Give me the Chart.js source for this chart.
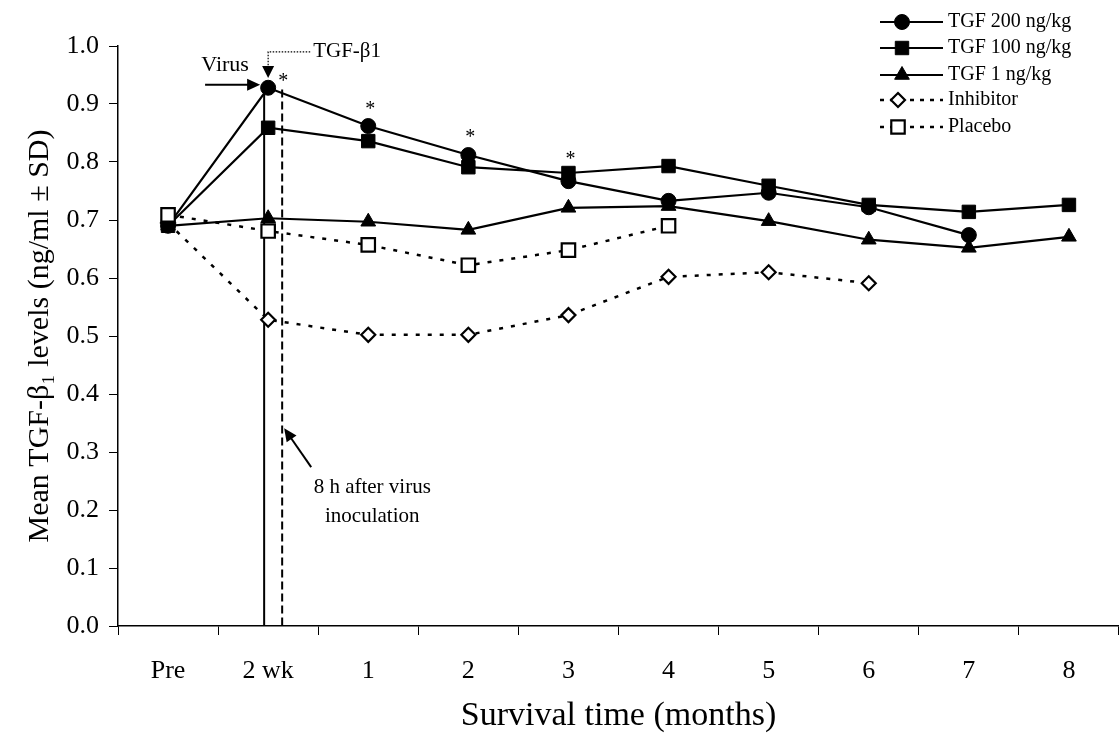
<!DOCTYPE html>
<html>
<head>
<meta charset="utf-8">
<script src="https://cdn.jsdelivr.net/npm/chart.js@4/dist/chart.umd.min.js"></script>
<style>
  html, body { margin: 0; padding: 0; background: #fff; }
  #wrap { width: 1119px; height: 736px; }
</style>
</head>
<body>
<div id="wrap"><canvas id="chart" width="1119" height="736"></canvas></div>
<script>
// data
const categories = ['Pre', '2 wk', '1', '2', '3', '4', '5', '6', '7', '8'];
const tgf200 = [0.69, 0.928, 0.862, 0.812, 0.767, 0.733, 0.747, 0.722, 0.674, null];
const tgf100 = [0.69, 0.859, 0.836, 0.791, 0.781, 0.793, 0.759, 0.726, 0.714, 0.726];
const tgf1 = [0.69, 0.703, 0.697, 0.683, 0.721, 0.724, 0.698, 0.666, 0.652, 0.671];
const inhibitor = [0.695, 0.528, 0.502, 0.502, 0.536, 0.602, 0.61, 0.591, null, null];
const placebo = [0.709, 0.681, 0.657, 0.622, 0.648, 0.69, null, null, null, null];
const seriesNames = ['TGF 200 ng/kg', 'TGF 100 ng/kg', 'TGF 1 ng/kg', 'Inhibitor', 'Placebo'];
const yTicks = [0, 0.1, 0.2, 0.3, 0.4, 0.5, 0.6, 0.7, 0.8, 0.9, 1.0];

// significance marks (category index, value)
const stars = [[1.15, 0.947], [2.02, 0.898], [3.02, 0.85], [4.02, 0.812]];

const SERIF = "'Liberation Serif', 'Times New Roman', serif";

function series(label, data, style, radius, open, dashed) {
    return {
        label: label,
        data: data,
        borderColor: '#000',
        borderWidth: dashed ? 2.5 : 2.2,
        borderDash: dashed ? [4, 8] : [],
        tension: 0,
        spanGaps: false,
        clip: false,
        pointStyle: style,
        pointRadius: radius,
        pointBackgroundColor: open ? '#fff' : '#000',
        pointBorderColor: '#000',
        pointBorderWidth: open ? 2.2 : 1,
    };
}

const datasets = [
    Object.assign(series(seriesNames[4], placebo, 'rect', 9.5, true, true), { order: 0 }),
    Object.assign(series(seriesNames[0], tgf200, 'circle', 7.5, false, false), { order: 1 }),
    Object.assign(series(seriesNames[1], tgf100, 'rect', 9.5, false, false), { order: 2 }),
    Object.assign(series(seriesNames[2], tgf1, 'triangle', 8.5, false, false), { order: 3 }),
    Object.assign(series(seriesNames[3], inhibitor, 'rectRot', 7, true, true), { order: 4 }),
];

function arrowHead(ctx, x0, y0, x1, y1, len, half) {
    const a = Math.atan2(y1 - y0, x1 - x0);
    ctx.beginPath();
    ctx.moveTo(x1, y1);
    ctx.lineTo(x1 - len * Math.cos(a) + half * Math.sin(a), y1 - len * Math.sin(a) - half * Math.cos(a));
    ctx.lineTo(x1 - len * Math.cos(a) - half * Math.sin(a), y1 - len * Math.sin(a) + half * Math.cos(a));
    ctx.closePath();
    ctx.fill();
}

function marker(ctx, style, x, y, r, open) {
    ctx.save();
    ctx.fillStyle = open ? '#fff' : '#000';
    ctx.strokeStyle = '#000';
    ctx.lineWidth = open ? 2.2 : 1;
    ctx.setLineDash([]);
    ctx.beginPath();
    if (style === 'circle') {
        ctx.arc(x, y, r, 0, Math.PI * 2);
    } else if (style === 'rect') {
        const s = r * Math.SQRT1_2;
        ctx.rect(x - s, y - s, 2 * s, 2 * s);
    } else if (style === 'triangle') {
        ctx.moveTo(x, y - r);
        ctx.lineTo(x + r * 0.866, y + r * 0.5);
        ctx.lineTo(x - r * 0.866, y + r * 0.5);
        ctx.closePath();
    } else if (style === 'rectRot') {
        ctx.moveTo(x, y - r);
        ctx.lineTo(x + r, y);
        ctx.lineTo(x, y + r);
        ctx.lineTo(x - r, y);
        ctx.closePath();
    }
    ctx.fill();
    ctx.stroke();
    ctx.restore();
}

// vertical guide lines behind the markers
const guideLines = {
    id: 'guideLines',
    beforeDatasetsDraw(chart) {
        const { ctx, scales: { x, y } } = chart;
        ctx.save();
        ctx.strokeStyle = '#000';
        ctx.lineWidth = 2;
        ctx.beginPath();
        ctx.moveTo(x.getPixelForValue(0.96), y.getPixelForValue(0.93));
        ctx.lineTo(x.getPixelForValue(0.96), y.getPixelForValue(0));
        ctx.stroke();
        ctx.setLineDash([8, 4]);
        ctx.beginPath();
        ctx.moveTo(x.getPixelForValue(1.14), y.getPixelForValue(0.925));
        ctx.lineTo(x.getPixelForValue(1.14), y.getPixelForValue(0));
        ctx.stroke();
        ctx.restore();
    },
};

// text notes, arrows, stars and the legend
const notes = {
    id: 'notes',
    afterDraw(chart) {
        const { ctx, scales: { x, y } } = chart;
        ctx.save();
        ctx.fillStyle = '#000';
        ctx.strokeStyle = '#000';

        // stars
        ctx.font = '20px ' + SERIF;
        ctx.textAlign = 'center';
        ctx.textBaseline = 'middle';
        stars.forEach(([i, v]) => {
            ctx.fillText('*', x.getPixelForValue(i), y.getPixelForValue(v) + 5);
        });

        // Virus arrow
        ctx.font = '22px ' + SERIF;
        ctx.fillText('Virus', x.getPixelForValue(0.57), y.getPixelForValue(0.967));
        const vy = y.getPixelForValue(0.933);
        const vx0 = x.getPixelForValue(0.37);
        const vx1 = x.getPixelForValue(0.92);
        ctx.lineWidth = 2;
        ctx.beginPath();
        ctx.moveTo(vx0, vy);
        ctx.lineTo(vx1 - 10, vy);
        ctx.stroke();
        arrowHead(ctx, vx0, vy, vx1, vy, 13, 6);

        // TGF-β1 dotted callout
        const tx = x.getPixelForValue(1.0);
        const ty = y.getPixelForValue(0.99);
        ctx.lineWidth = 1.2;
        ctx.setLineDash([1.5, 1.5]);
        ctx.beginPath();
        ctx.moveTo(x.getPixelForValue(1.42), ty);
        ctx.lineTo(tx, ty);
        ctx.lineTo(tx, y.getPixelForValue(0.962));
        ctx.stroke();
        ctx.setLineDash([]);
        arrowHead(ctx, tx, ty, tx, y.getPixelForValue(0.945), 12, 6);
        ctx.textAlign = 'left';
        ctx.font = '21px ' + SERIF;
        ctx.fillText('TGF-β1', x.getPixelForValue(1.45), ty);

        // 8 h note
        ctx.textAlign = 'center';
        ctx.font = '21px ' + SERIF;
        ctx.fillText('8 h after virus', x.getPixelForValue(2.04), y.getPixelForValue(0.238));
        ctx.fillText('inoculation', x.getPixelForValue(2.04), y.getPixelForValue(0.188));
        const ax0 = x.getPixelForValue(1.43), ay0 = y.getPixelForValue(0.274);
        const ax1 = x.getPixelForValue(1.16), ay1 = y.getPixelForValue(0.341);
        ctx.lineWidth = 2;
        ctx.beginPath();
        ctx.moveTo(ax0, ay0);
        ctx.lineTo(ax1 + (ax0 - ax1) * 0.2, ay1 + (ay0 - ay1) * 0.2);
        ctx.stroke();
        arrowHead(ctx, ax0, ay0, ax1, ay1, 13, 6);

        // legend
        const rows = [22, 48, 75, 100, 127];
        const order = [1, 2, 3, 4, 0];
        ctx.font = '20px ' + SERIF;
        ctx.textAlign = 'left';
        ctx.textBaseline = 'middle';
        order.forEach((di, k) => {
            const ds = chart.data.datasets[di];
            const ry = rows[k];
            const dashed = ds.borderDash.length > 0;
            ctx.lineWidth = ds.borderWidth;
            ctx.setLineDash(dashed ? [4, 6] : []);
            ctx.beginPath();
            ctx.moveTo(880, ry);
            ctx.lineTo(943, ry);
            ctx.stroke();
            ctx.setLineDash([]);
            const open = ds.pointBackgroundColor === '#fff';
            marker(ctx, ds.pointStyle, dashed ? 898 : 902, ry, ds.pointRadius, open);
            ctx.fillStyle = '#000';
            ctx.fillText(ds.label, 948, ry);
        });
        ctx.restore();
    },
};

new Chart(document.getElementById('chart'), {
    type: 'line',
    data: { labels: categories, datasets: datasets },
    options: {
        responsive: false,
        animation: false,
        devicePixelRatio: 1,
        layout: { autoPadding: false, padding: { top: 46, right: 0, left: 0, bottom: 0 } },
        plugins: {
            legend: { display: false },
            tooltip: { enabled: false },
        },
        scales: {
            x: {
                type: 'category',
                offset: true,
                afterFit: (scale) => {
                    scale.height = 110;
                    scale.paddingLeft = 0;
                    scale.paddingRight = 0;
                },
                grid: {
                    offset: true,
                    drawOnChartArea: false,
                    drawTicks: true,
                    tickLength: 9,
                    color: '#000',
                    lineWidth: 1,
                },
                border: { display: true, color: '#000', width: 1.5 },
                ticks: {
                    color: '#000',
                    font: { family: SERIF, size: 26 },
                    padding: 21,
                    maxRotation: 0,
                    autoSkip: false,
                },
                title: {
                    display: true,
                    text: 'Survival time (months)',
                    color: '#000',
                    font: { family: SERIF, size: 34 },
                    padding: { top: 0, bottom: 0 },
                },
            },
            y: {
                min: 0,
                max: 1,
                afterFit: (scale) => { scale.width = 118; },
                afterBuildTicks: (scale) => { scale.ticks = yTicks.map((v) => ({ value: v })); },
                grid: {
                    drawOnChartArea: false,
                    drawTicks: true,
                    tickLength: 9,
                    color: '#000',
                    lineWidth: 1,
                },
                border: { display: true, color: '#000', width: 1.5 },
                ticks: {
                    color: '#000',
                    font: { family: SERIF, size: 26 },
                    padding: 10,
                    callback: (v) => Number(v).toFixed(1),
                },
                title: {
                    display: true,
                    text: 'Mean TGF-β₁ levels (ng/ml ± SD)',
                    color: '#000',
                    font: { family: SERIF, size: 30 },
                    padding: { top: 22, bottom: 0 },
                },
            },
        },
    },
    plugins: [guideLines, notes],
});
</script>
</body>
</html>
